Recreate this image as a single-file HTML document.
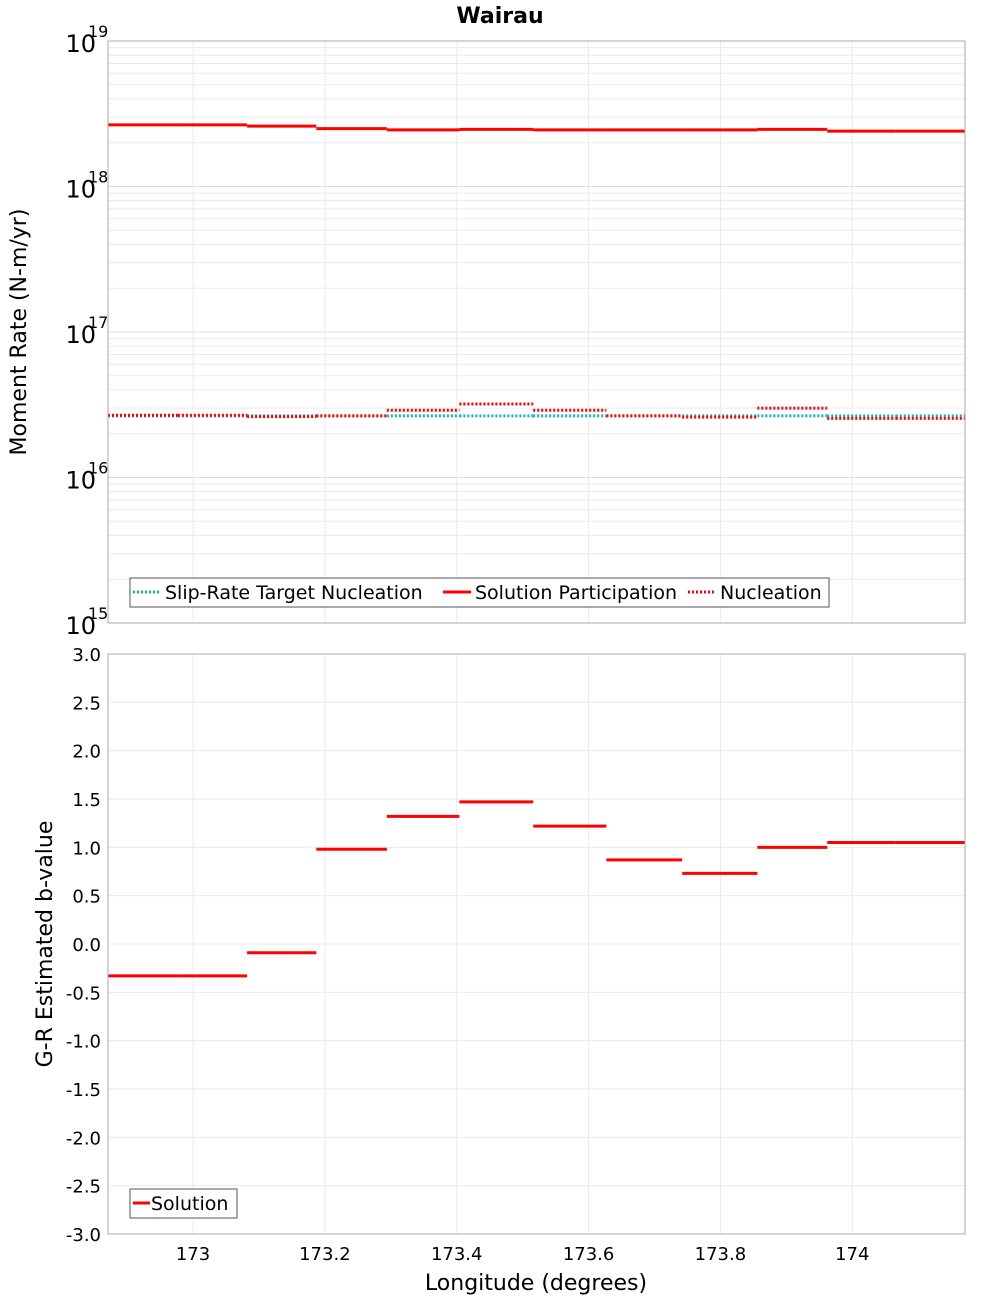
<!DOCTYPE html>
<html><head><meta charset="utf-8"><style>
body{margin:0;background:#fff;font-family:"Liberation Sans","DejaVu Sans",sans-serif}
svg text{font-family:"DejaVu Sans","Liberation Sans",sans-serif}
</style></head><body>
<svg id="chart" width="1000" height="1300" xmlns="http://www.w3.org/2000/svg">
<text x="500" y="23" text-anchor="middle" font-size="22" font-weight="bold">Wairau</text>
<g id="topPanel"></g>
<g id="botPanel"></g>
</svg>
<script>
const binEdges=[172.871,172.977,173.082,173.187,173.294,173.404,173.516,173.627,173.742,173.856,173.962,174.066,174.171];
const participation=[2.65e18,2.65e18,2.6e18,2.5e18,2.45e18,2.47e18,2.45e18,2.45e18,2.45e18,2.47e18,2.4e18,2.4e18];
const targetNucleation=[2.65e16,2.65e16,2.65e16,2.65e16,2.65e16,2.65e16,2.65e16,2.65e16,2.65e16,2.65e16,2.65e16,2.65e16];
const nucleation=[2.68e16,2.68e16,2.62e16,2.65e16,2.9e16,3.2e16,2.9e16,2.65e16,2.6e16,3.0e16,2.55e16,2.55e16];
const bValues=[-0.33,-0.33,-0.09,0.98,1.32,1.47,1.22,0.87,0.73,1.0,1.05,1.05];
const xTicks=[173,173.2,173.4,173.6,173.8,174];
const xTickLabels=["173","173.2","173.4","173.6","173.8","174"];
const bTicks=[-3,-2.5,-2,-1.5,-1,-0.5,0,0.5,1,1.5,2,2.5,3];
const logExps=[15,16,17,18,19];

const NS="http://www.w3.org/2000/svg";
const L=108,R=965,T1=41,B1=623,T2=654,B2=1234;
const X0=172.871,X1=174.171;
const sx=v=>L+(v-X0)/(X1-X0)*(R-L);
const sy1=v=>B1-(Math.log10(v)-15)/4*(B1-T1);
const sy2=v=>B2-(v+3)/6*(B2-T2);
function mk(p,tag,a,txt){const e=document.createElementNS(NS,tag);for(const k in a)e.setAttribute(k,a[k]);if(txt!==undefined)e.textContent=txt;p.appendChild(e);return e;}
const topG=document.getElementById('topPanel'),botG=document.getElementById('botPanel');

let bg=mk(topG,'rect',{x:L,y:T1,width:R-L,height:B1-T1,fill:'#fff'});


for(let e=15;e<19;e++){for(let m=1;m<=9;m++){const y=sy1(m*Math.pow(10,e));
 const g=mk(topG,'line',{x1:L,x2:R,y1:y,y2:y,stroke:m===1?'#ddd':'#ebebeb','stroke-width':1});
 
 }}
xTicks.forEach(t=>{const g=mk(topG,'line',{x1:sx(t),x2:sx(t),y1:T1,y2:B1,stroke:'#ebebeb'});
 
 });
logExps.forEach(e=>{const y=sy1(Math.pow(10,e));
 const t=mk(topG,'text',{x:96,y:y+11,'text-anchor':'end','font-size':24},'10');
 
 
 const s=mk(topG,'text',{x:88,y:y-4,'font-size':16},String(e));
 
 });
function seg(p,vals,sy,col,dash,name,w){for(let i=0;i<vals.length;i++){
 const l=mk(p,'line',{x1:sx(binEdges[i]),x2:sx(binEdges[i+1]),y1:sy(vals[i]),y2:sy(vals[i]),stroke:col,'stroke-width':w});
 if(dash)l.setAttribute('stroke-dasharray',dash);
 
 }}
seg(topG,participation,sy1,'#ff0000',null,'participation-segment',3);
seg(topG,targetNucleation,sy1,'#14b4b4','2,2','target-nucleation-segment',3);
seg(topG,nucleation,sy1,'#ff0000','2,2','nucleation-segment',3);
let fr=mk(topG,'rect',{x:L,y:T1,width:R-L,height:B1-T1,fill:'none',stroke:'#aaa'});


let yt=mk(topG,'text',{transform:'translate(26,332) rotate(-90)','text-anchor':'middle','font-size':22},'Moment Rate (N-m/yr)');


let lg=mk(topG,'g',{});


mk(lg,'rect',{x:130,y:578,width:699,height:29,fill:'#fff',stroke:'#555'});
const items=[[133,'#14b4b4','2,2','Slip-Rate Target Nucleation'],[443,'#ff0000',null,'Solution Participation'],[688,'#ff0000','2,2','Nucleation']];
items.forEach(it=>{const g=mk(lg,'g',{});
 
 
 const l=mk(g,'line',{x1:it[0],x2:it[0]+28,y1:592,y2:592,stroke:it[1],'stroke-width':3});
 if(it[2])l.setAttribute('stroke-dasharray',it[2]);
 mk(g,'text',{x:it[0]+32,y:599,'font-size':19},it[3]);});

let bg2=mk(botG,'rect',{x:L,y:T2,width:R-L,height:B2-T2,fill:'#fff'});


bTicks.forEach(t=>{const y=sy2(t);
 const g=mk(botG,'line',{x1:L,x2:R,y1:y,y2:y,stroke:'#ebebeb'});
 
 
 const tx=mk(botG,'text',{x:101,y:y+7,'text-anchor':'end','font-size':18},t.toFixed(1));
 
 });
xTicks.forEach((t,i)=>{const g=mk(botG,'line',{x1:sx(t),x2:sx(t),y1:T2,y2:B2,stroke:'#ebebeb'});
 
 
 const tx=mk(botG,'text',{x:sx(t),y:1260,'text-anchor':'middle','font-size':18},xTickLabels[i]);
 
 });
seg(botG,bValues,sy2,'#ff0000',null,'b-value-segment',3);
let fr2=mk(botG,'rect',{x:L,y:T2,width:R-L,height:B2-T2,fill:'none',stroke:'#aaa'});


let yt2=mk(botG,'text',{transform:'translate(52,944) rotate(-90)','text-anchor':'middle','font-size':22},'G-R Estimated b-value');


let xt=mk(botG,'text',{x:536,y:1290,'text-anchor':'middle','font-size':22},'Longitude (degrees)');


let lg2=mk(botG,'g',{});


mk(lg2,'rect',{x:130,y:1189,width:107,height:29,fill:'#fff',stroke:'#555'});
mk(lg2,'line',{x1:133,x2:150,y1:1203,y2:1203,stroke:'#ff0000','stroke-width':3});
mk(lg2,'text',{x:151,y:1210,'font-size':19},'Solution');
</script>
</body></html>
